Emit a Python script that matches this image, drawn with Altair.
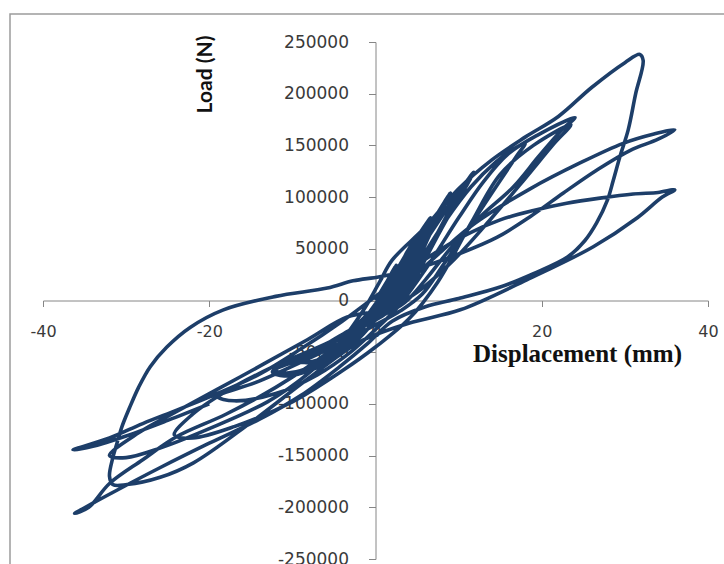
import altair as alt
import pandas as pd

# Load-displacement record, split into loading cycles (displacement mm, load N)
cycle_1 = [(0, 0), (1.2, 16000), (2.4, 33000), (1.9, 26000), (1.0, 8000), (-0.6, -10000),
           (-2.2, -24000), (-1.6, -22000), (-0.6, -10000)]
cycle_1b = [(0.6, 4000), (1.6, 20000), (2.5, 34000), (2.0, 26000), (1.2, 8000),
            (-0.8, -12000), (-2.3, -25000), (-1.4, -22000), (-0.4, -8000)]
cycle_2 = [(1.0, 8000), (2.6, 30000), (4.2, 52000), (3.6, 44000), (2.4, 20000), (1.0, 0),
           (-1.8, -20000), (-4.3, -38000), (-3.4, -37000), (-1.6, -22000), (0.0, -4000)]
cycle_2b = [(1.6, 14000), (3.0, 34000), (4.3, 54000), (3.8, 44000), (2.8, 22000),
            (1.4, 0), (-1.5, -18000), (-4.4, -39000), (-3.2, -36000), (-1.2, -18000)]
cycle_3 = [(0.4, -4000), (2.2, 22000), (4.5, 55000), (6.6, 80000), (5.8, 70000), (4.2, 40000),
           (2.6, 10000), (1.0, -6000), (-2.0, -24000), (-4.5, -38000), (-6.8, -48000),
           (-5.8, -49000), (-3.5, -38000), (-1.5, -22000)]
cycle_3b = [(0.2, -6000), (2.6, 26000), (4.8, 58000), (6.4, 78000), (5.6, 66000),
            (4.0, 34000), (2.8, 6000), (0.6, -10000), (-3.0, -28000), (-6.6, -47000),
            (-5.4, -47000), (-3.0, -34000), (-1.0, -16000)]
cycle_4 = [(0.6, -2000), (2.6, 22000), (5.2, 56000), (7.5, 85000), (9.0, 104000),
           (8.2, 94000), (6.5, 68000), (4.6, 35000), (3.2, 10000), (2.0, -4000),
           (-2.0, -24000), (-6.0, -44000), (-9.4, -58000), (-8.0, -60000), (-5.0, -52000),
           (-2.5, -36000), (-0.5, -16000)]
cycle_4b = [(1.2, 2000), (3.4, 30000), (6.2, 66000), (8.8, 100000), (8.0, 88000),
            (6.2, 58000), (4.4, 24000), (3.0, 2000), (0.5, -14000), (-4.5, -38000),
            (-9.2, -57000), (-7.6, -59000), (-4.2, -46000), (-1.5, -26000)]
cycle_5 = [(0.8, -4000), (3.6, 30000), (7.0, 72000), (10.0, 105000), (11.8, 124000),
           (11.0, 114000), (9.0, 88000), (6.6, 52000), (4.6, 20000), (3.2, 0),
           (1.0, -14000), (-4.0, -36000), (-8.5, -55000), (-12.4, -69000), (-11.0, -73000),
           (-7.0, -65000), (-3.5, -48000), (-1.0, -28000), (1.0, -8000)]
cycle_5b = [(3.0, 16000), (6.4, 62000), (9.6, 100000), (11.6, 121000), (10.6, 106000),
            (8.4, 76000), (6.0, 40000), (4.2, 12000), (2.4, -6000), (-2.5, -28000),
            (-7.5, -50000), (-12.2, -67000), (-10.4, -70000), (-6.0, -58000),
            (-2.2, -38000), (0.5, -14000)]
cycle_6 = [(2.6, 4000), (5.0, 34000), (8.5, 78000), (11.5, 110000), (14.5, 134000),
           (16.5, 146000), (18.0, 152000), (17.0, 140000), (14.5, 110000), (11.2, 70000),
           (8.2, 35000), (5.6, 6000), (3.0, -10000), (-2.0, -32000), (-8.0, -56000),
           (-14.0, -78000), (-19.0, -93000), (-17.0, -97000), (-12.0, -90000),
           (-7.0, -72000), (-3.0, -50000), (0.0, -28000), (2.5, -8000)]
cycle_7 = [(6.0, 30000), (10.0, 80000), (13.0, 115000), (16.0, 142000), (19.5, 160000),
           (24.0, 177000), (22.4, 165000), (19.6, 139000), (16.6, 110000), (12.6, 81000),
           (9.0, 50000), (6.0, 20000), (3.5, -2000), (0.0, -18000), (-6.0, -42000),
           (-12.3, -64000), (-18.0, -88000), (-22.0, -110000), (-24.2, -130000),
           (-22.0, -133000), (-17.0, -122000), (-10.0, -98000), (-4.0, -68000),
           (0.0, -45000), (4.0, -18000)]
cycle_8 = [(7.5, 18000), (11.5, 75000), (15.0, 122000), (19.0, 150000), (23.5, 170000),
           (21.5, 152000), (18.0, 118000), (14.0, 80000), (9.5, 40000), (5.0, 8000),
           (1.5, -8000), (-3.4, -16000), (-8.2, -38000), (-16.3, -74000), (-24.3, -109000),
           (-28.5, -128000), (-32.0, -150000), (-30.0, -152000), (-26.0, -143000),
           (-20.0, -124000), (-13.0, -98000), (-8.0, -70000), (-4.0, -38000), (-1.5, -10000)]
cycle_9 = [(0.5, 18000), (2.0, 39000), (6.0, 71000), (10.0, 108000), (14.0, 136000),
           (18.0, 158000), (22.0, 178000), (26.0, 206000), (30.0, 230000), (31.8, 238000),
           (32.2, 232000), (31.3, 200000), (30.4, 165000), (29.4, 139000), (28.6, 116000),
           (27.9, 97000), (26.6, 75000), (25.2, 58000), (23.1, 42000), (19.0, 26000),
           (15.0, 13000), (10.0, 2000), (6.0, -6000), (2.0, -20000), (-1.0, -42000),
           (-4.3, -64000), (-9.0, -92000), (-14.0, -115000), (-20.0, -138000),
           (-26.0, -162000), (-31.0, -183000), (-34.0, -196000), (-36.2, -206000),
           (-34.5, -200000), (-32.0, -177000), (-28.0, -154000), (-24.0, -132000),
           (-18.0, -110000), (-12.0, -84000), (-6.0, -52000), (-2.0, -25000), (1.5, -2000)]
cycle_10 = [(4.5, 22000), (8.0, 48000), (12.0, 75000), (18.6, 108000), (24.6, 133000),
            (29.8, 152000), (33.5, 161000), (36.0, 165000), (34.0, 156000), (30.6, 145000),
            (26.6, 126000), (22.6, 104000), (18.6, 81000), (14.6, 61000), (10.0, 45000),
            (5.0, 31000), (0.5, 23000), (-2.7, 19000), (-5.8, 12000), (-12.0, 4000),
            (-18.3, -9000), (-22.3, -26000), (-25.1, -45000), (-27.1, -64000),
            (-28.5, -84000), (-29.6, -104000), (-30.5, -122000), (-31.1, -138000),
            (-31.6, -152000), (-32.0, -170000), (-31.6, -178000), (-29.9, -178000),
            (-25.9, -171000), (-21.9, -157000), (-15.0, -118000), (-8.0, -75000),
            (-1.9, -40000)]
cycle_11 = [(4.0, -22000), (10.2, -9000), (18.2, 20000), (26.2, 52000), (31.5, 80000),
            (34.5, 100000), (36.0, 107000), (34.0, 104500), (31.0, 103000), (27.0, 99000),
            (23.0, 94000), (19.0, 87000), (15.0, 78000), (11.0, 64000), (6.0, 40000),
            (1.0, 10000), (-4.0, -20000), (-9.0, -47000), (-13.9, -71000), (-19.9, -93000),
            (-23.9, -106000), (-28.0, -119000), (-32.0, -133000), (-36.4, -144500),
            (-34.0, -141000), (-30.0, -131000), (-25.0, -116000), (-20.0, -100000)]

cycles = [cycle_1, cycle_1b, cycle_2, cycle_2b, cycle_3, cycle_3b, cycle_4, cycle_4b,
          cycle_5, cycle_5b, cycle_6, cycle_7, cycle_8, cycle_9, cycle_10, cycle_11]

x_ticks = [-40, -20, 0, 20, 40]
y_ticks = [-250000, -200000, -150000, -100000, -50000, 0,
           50000, 100000, 150000, 200000, 250000]

rows = []
for cyc in cycles:
    for d, p in cyc:
        rows.append({"step": len(rows), "disp": d, "load": p})
df = pd.DataFrame(rows)

W, H = 665, 517
AXIS_GRAY = "#868686"

curve = alt.Chart(df).mark_line(
    interpolate="catmull-rom", strokeWidth=3.6, color="#1d3e69", strokeJoin="round"
).encode(
    x=alt.X(
        "disp:Q",
        scale=alt.Scale(domain=[-40, 40], nice=False),
        axis=alt.Axis(
            values=x_ticks, orient="bottom", offset=-H / 2, grid=False,
            labelExpr="'' + datum.value", labelFont="DejaVu Sans", labelFontSize=16,
            labelColor="#3a3a3a", labelPadding=17, labelFlush=False,
            domainColor=AXIS_GRAY, tickColor=AXIS_GRAY, tickSize=6,
            title="Displacement (mm)", titleFont="Liberation Serif", titleFontSize=25,
            titleFontWeight="bold", titleColor="#111111", titleX=534, titleY=53,
            titleAlign="center", titleBaseline="middle",
        ),
    ),
    y=alt.Y(
        "load:Q",
        scale=alt.Scale(domain=[-250000, 250000], nice=False, zero=False),
        axis=alt.Axis(
            values=y_ticks, orient="left", offset=-W / 2, grid=False,
            labelExpr="'' + datum.value", labelFont="DejaVu Sans", labelFontSize=17,
            labelColor="#3a3a3a", labelPadding=20, labelFlush=False,
            domainColor=AXIS_GRAY, tickColor=AXIS_GRAY, tickSize=7,
            title="Load (N)", titleFont="Lato", titleFontSize=21,
            titleFontWeight="bold", titleColor="#111111", titleAngle=270,
            titleX=-170, titleY=32, titleAlign="center", titleBaseline="middle",
        ),
    ),
    order="step:Q",
)

frame = alt.Chart(pd.DataFrame({"f": [0]})).mark_rect(
    fill="white", fillOpacity=0, stroke="#9c9c9c", strokeWidth=1.5
).encode(
    x=alt.value(-33), x2=alt.value(720), y=alt.value(-28), y2=alt.value(560)
)

chart = alt.layer(frame, curve).properties(
    width=W, height=H,
    autosize=alt.AutoSizeParams(type="none"),
    padding={"left": 43, "top": 42, "right": 16, "bottom": 5},
).configure_view(stroke=None)

chart.save("out.html", embed_options={"renderer": "svg", "actions": False})
